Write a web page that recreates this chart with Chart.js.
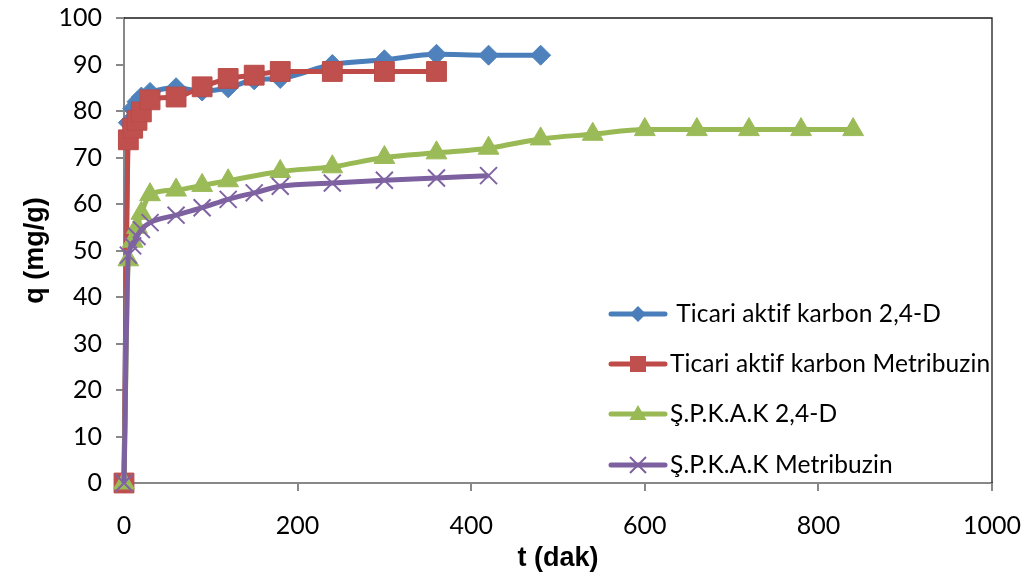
<!DOCTYPE html>
<html>
<head>
<meta charset="utf-8">
<script src="https://cdn.jsdelivr.net/npm/chart.js@4.4.1/dist/chart.umd.min.js"></script>
<style>
  html, body { margin: 0; padding: 0; background: #ffffff; }
  #wrap { width: 1025px; height: 579px; position: relative; }
</style>
</head>
<body>
<div id="wrap"><canvas id="c" width="1025" height="579"></canvas></div>
<script>
// Adsorption kinetics: q (mg/g) against contact time t (dak)
const seriesNames = [
  ' Ticari aktif karbon 2,4-D',
  'Ticari aktif karbon Metribuzin',
  'Ş.P.K.A.K 2,4-D',
  'Ş.P.K.A.K Metribuzin'
];

const tTicari24D = [0, 5, 10, 15, 20, 30, 60, 90, 120, 150, 180, 240, 300, 360, 420, 480];
const qTicari24D = [0, 77.5, 80.5, 82.0, 83.0, 84.0, 85.0, 84.3, 85.0, 86.7, 87.0, 90.0, 91.0, 92.2, 92.0, 92.0];

const tTicariMet = [0, 5, 10, 15, 20, 30, 60, 90, 120, 150, 180, 240, 300, 360];
const qTicariMet = [0, 73.8, 76.3, 78.0, 79.8, 82.4, 83.0, 85.2, 87.0, 87.7, 88.5, 88.5, 88.5, 88.5];

const tSpkak24D = [0, 5, 10, 15, 20, 30, 60, 90, 120, 180, 240, 300, 360, 420, 480, 540, 600, 660, 720, 780, 840];
const qSpkak24D = [0, 48, 52, 55, 58, 62, 63, 64, 65, 67, 68, 70, 71, 72, 74, 75, 76, 76, 76, 76, 76];

const tSpkakMet = [0, 5, 10, 15, 20, 30, 60, 90, 120, 150, 180, 240, 300, 360, 420];
const qSpkakMet = [0, 49, 51, 53, 54.5, 56, 57.6, 59.2, 61, 62.4, 63.8, 64.5, 65.1, 65.6, 66.1];

const xTicks = [0, 200, 400, 600, 800, 1000];
const yTicks = [0, 10, 20, 30, 40, 50, 60, 70, 80, 90, 100];

const colBlue = '#4A7EBB', colRed = '#BE4B48', colGreen = '#98B954', colPurple = '#7D60A0';

function pairs(ts, qs) { return ts.map((t, i) => ({ x: t, y: qs[i] })); }

const common = {
  borderWidth: 5,
  cubicInterpolationMode: 'monotone',
  clip: false,
  pointHoverRadius: 10
};

// Legend drawn inside the plot area, lower right
const legendPlugin = {
  id: 'boxLegend',
  afterDraw(chart) {
    const ctx = chart.ctx;
    const rows = [314, 364, 414, 465];
    const lineX0 = 611, lineX1 = 665, mx = 638, textX = 670;
    const styles = [
      { c: colBlue, m: 'diamond' },
      { c: colRed, m: 'square' },
      { c: colGreen, m: 'triangle' },
      { c: colPurple, m: 'cross' }
    ];
    ctx.save();
    rows.forEach((y, i) => {
      const s = styles[i];
      ctx.strokeStyle = s.c;
      ctx.lineWidth = 5;
      ctx.lineCap = 'round';
      ctx.beginPath();
      ctx.moveTo(lineX0, y);
      ctx.lineTo(lineX1, y);
      ctx.stroke();
      ctx.lineCap = 'butt';
      ctx.fillStyle = s.c;
      ctx.beginPath();
      if (s.m === 'diamond') {
        ctx.moveTo(mx, y - 8); ctx.lineTo(mx + 8, y); ctx.lineTo(mx, y + 8); ctx.lineTo(mx - 8, y);
        ctx.closePath(); ctx.fill();
      } else if (s.m === 'square') {
        ctx.fillStyle = '#C0504D';
        ctx.rect(mx - 8, y - 8, 16, 16); ctx.fill();
      } else if (s.m === 'triangle') {
        ctx.moveTo(mx, y - 9); ctx.lineTo(mx + 8.5, y + 6); ctx.lineTo(mx - 8.5, y + 6);
        ctx.closePath(); ctx.fill();
      } else {
        ctx.lineWidth = 2;
        ctx.moveTo(mx - 8, y - 8); ctx.lineTo(mx + 8, y + 8);
        ctx.moveTo(mx + 8, y - 8); ctx.lineTo(mx - 8, y + 8);
        ctx.stroke();
      }
      ctx.fillStyle = '#000000';
      ctx.font = '24.5px Lato';
      ctx.letterSpacing = '0.1px';
      ctx.textBaseline = 'middle';
      ctx.textAlign = 'left';
      ctx.fillText(seriesNames[i], textX, y);
    });
    ctx.restore();
  }
};

// Thin frame on the top and right edges of the plot area
const framePlugin = {
  id: 'frame',
  beforeDatasetsDraw(chart) {
    const a = chart.chartArea, ctx = chart.ctx;
    ctx.save();
    ctx.strokeStyle = '#1a1a1a';
    ctx.lineWidth = 1.3;
    ctx.beginPath();
    ctx.moveTo(a.left, a.top);
    ctx.lineTo(a.right, a.top);
    ctx.lineTo(a.right, a.bottom);
    ctx.stroke();
    ctx.restore();
  }
};

new Chart(document.getElementById('c'), {
  type: 'line',
  data: {
    datasets: [
      Object.assign({}, common, {
        label: seriesNames[0], data: pairs(tTicari24D, qTicari24D), order: 4,
        borderColor: colBlue, backgroundColor: '#4F81BD',
        pointStyle: 'rectRot', pointRadius: 10, pointBorderColor: '#4F81BD', pointBorderWidth: 1
      }),
      Object.assign({}, common, {
        label: seriesNames[1], data: pairs(tTicariMet, qTicariMet), order: 3,
        borderColor: colRed, backgroundColor: '#C0504D',
        pointStyle: 'rect', pointRadius: 14, pointBorderColor: '#B94C49', pointBorderWidth: 1
      }),
      Object.assign({}, common, {
        label: seriesNames[2], data: pairs(tSpkak24D, qSpkak24D), order: 2,
        borderColor: colGreen, backgroundColor: '#9BBB59',
        pointStyle: 'triangle', pointRadius: 12, pointBorderColor: '#9BBB59', pointBorderWidth: 1
      }),
      Object.assign({}, common, {
        label: seriesNames[3], data: pairs(tSpkakMet, qSpkakMet), order: 1,
        borderColor: colPurple, backgroundColor: 'rgba(0,0,0,0)',
        pointStyle: 'crossRot', pointRadius: 12, pointBorderColor: '#8064A2', pointBorderWidth: 2
      })
    ]
  },
  options: {
    responsive: false,
    animation: false,
    events: [],
    layout: { padding: { top: 18, right: 33, left: 0, bottom: 0 } },
    plugins: { legend: { display: false }, tooltip: { enabled: false } },
    scales: {
      x: {
        type: 'linear',
        min: 0, max: 1000,
        afterBuildTicks(scale) { scale.ticks = xTicks.map(v => ({ value: v })); },
        afterFit(scale) { scale.height = 96; scale.paddingLeft = 0; scale.paddingRight = 0; },
        grid: { display: true, drawOnChartArea: false, drawTicks: true, tickLength: 8, color: '#888888', lineWidth: 2 },
        border: { display: true, color: '#888888', width: 2 },
        ticks: { color: '#000000', font: { family: 'Lato', size: 25 }, padding: 20, maxRotation: 0,
                 callback: v => String(v) },
        title: { display: true, text: 't (dak)', color: '#000000',
                 font: { family: 'Liberation Sans', size: 27, weight: 'bold' }, padding: { top: 0, bottom: 4 } }
      },
      y: {
        type: 'linear',
        min: 0, max: 100,
        afterBuildTicks(scale) { scale.ticks = yTicks.map(v => ({ value: v })); },
        afterFit(scale) { scale.width = 124; scale.paddingTop = 0; scale.paddingBottom = 0; },
        grid: { display: true, drawOnChartArea: false, drawTicks: true, tickLength: 8, color: '#888888', lineWidth: 2 },
        border: { display: true, color: '#888888', width: 2 },
        ticks: { color: '#000000', font: { family: 'Lato', size: 25 }, padding: 14,
                 callback: v => String(v) },
        title: { display: true, text: 'q (mg/g)', color: '#000000',
                 font: { family: 'Liberation Sans', size: 27, weight: 'bold' }, padding: { top: 19, bottom: 0 } }
      }
    }
  },
  plugins: [framePlugin, legendPlugin]
});
</script>
</body>
</html>
